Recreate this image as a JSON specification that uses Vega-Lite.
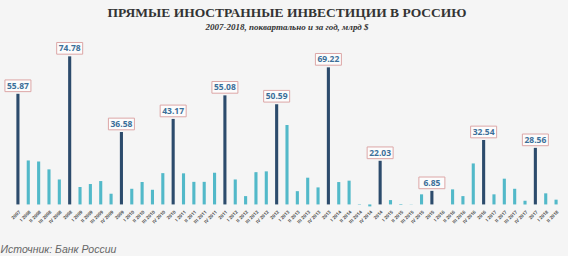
{
  "$schema": "https://vega.github.io/schema/vega-lite/v6.json",
  "width": 546,
  "height": 161,
  "autosize": {"type": "pad"},
  "padding": {"left": 0, "right": 8, "top": 5, "bottom": 0},
  "background": "#f5f5f5",
  "title": {
    "text": "ПРЯМЫЕ ИНОСТРАННЫЕ ИНВЕСТИЦИИ В РОССИЮ",
    "subtitle": "2007-2018, поквартально и за год, млрд $",
    "anchor": "middle",
    "font": "Liberation Serif",
    "fontSize": 13.5,
    "fontWeight": "bold",
    "color": "#333333",
    "subtitleFont": "Liberation Serif",
    "subtitleFontSize": 9,
    "subtitleFontStyle": "italic",
    "subtitleFontWeight": "bold",
    "subtitleColor": "#333333",
    "subtitlePadding": 4,
    "offset": 8
  },
  "config": {
    "view": {"stroke": null},
    "font": "Open Sans"
  },
  "data": {
    "values": [
      {"label": "2007", "type": "year", "value": 55.87},
      {"label": "I 2008", "type": "quarter", "value": 22.2},
      {"label": "II 2008", "type": "quarter", "value": 21.7},
      {"label": "III 2008", "type": "quarter", "value": 17.7},
      {"label": "IV 2008", "type": "quarter", "value": 12.6},
      {"label": "2008", "type": "year", "value": 74.78},
      {"label": "I 2009", "type": "quarter", "value": 8.8},
      {"label": "II 2009", "type": "quarter", "value": 10.3},
      {"label": "III 2009", "type": "quarter", "value": 11.8},
      {"label": "IV 2009", "type": "quarter", "value": 5.4},
      {"label": "2009", "type": "year", "value": 36.58},
      {"label": "I 2010", "type": "quarter", "value": 7.9},
      {"label": "II 2010", "type": "quarter", "value": 11.3},
      {"label": "III 2010", "type": "quarter", "value": 7.4},
      {"label": "IV 2010", "type": "quarter", "value": 15.8},
      {"label": "2010", "type": "year", "value": 43.17},
      {"label": "I 2011", "type": "quarter", "value": 15.7},
      {"label": "II 2011", "type": "quarter", "value": 11.4},
      {"label": "III 2011", "type": "quarter", "value": 11.4},
      {"label": "IV 2011", "type": "quarter", "value": 16.0},
      {"label": "2011", "type": "year", "value": 55.08},
      {"label": "I 2012", "type": "quarter", "value": 12.6},
      {"label": "II 2012", "type": "quarter", "value": 4.2},
      {"label": "III 2012", "type": "quarter", "value": 16.3},
      {"label": "IV 2012", "type": "quarter", "value": 16.7},
      {"label": "2012", "type": "year", "value": 50.59},
      {"label": "I 2013", "type": "quarter", "value": 40.1},
      {"label": "II 2013", "type": "quarter", "value": 6.7},
      {"label": "III 2013", "type": "quarter", "value": 13.5},
      {"label": "IV 2013", "type": "quarter", "value": 8.6},
      {"label": "2013", "type": "year", "value": 69.22},
      {"label": "I 2014", "type": "quarter", "value": 11.3},
      {"label": "II 2014", "type": "quarter", "value": 12.0},
      {"label": "III 2014", "type": "quarter", "value": 0.2},
      {"label": "IV 2014", "type": "quarter", "value": -1.0},
      {"label": "2014", "type": "year", "value": 22.03},
      {"label": "I 2015", "type": "quarter", "value": 2.2},
      {"label": "II 2015", "type": "quarter", "value": -0.3},
      {"label": "III 2015", "type": "quarter", "value": 0.1},
      {"label": "IV 2015", "type": "quarter", "value": 5.1},
      {"label": "2015", "type": "year", "value": 6.85},
      {"label": "I 2016", "type": "quarter", "value": 0.0},
      {"label": "II 2016", "type": "quarter", "value": 7.6},
      {"label": "III 2016", "type": "quarter", "value": 4.2},
      {"label": "IV 2016", "type": "quarter", "value": 20.7},
      {"label": "2016", "type": "year", "value": 32.54},
      {"label": "I 2017", "type": "quarter", "value": 5.1},
      {"label": "II 2017", "type": "quarter", "value": 13.0},
      {"label": "III 2017", "type": "quarter", "value": 7.9},
      {"label": "IV 2017", "type": "quarter", "value": 1.9},
      {"label": "2017", "type": "year", "value": 28.56},
      {"label": "I 2018", "type": "quarter", "value": 5.6},
      {"label": "II 2018", "type": "quarter", "value": 2.4}
    ]
  },
  "encoding": {
    "x": {
      "field": "label",
      "type": "nominal",
      "sort": null,
      "scale": {"paddingInner": 0.7, "paddingOuter": 0.23},
      "axis": {
        "title": "Источник: Банк России",
        "titleAnchor": "start",
        "titleAlign": "left",
        "titleX": -14,
        "titleFont": "Liberation Sans",
        "titleFontStyle": "italic",
        "titleFontWeight": "normal",
        "titleFontSize": 10.5,
        "titleColor": "#666666",
        "titlePadding": 21,
        "labelAngle": -45,
        "labelFontSize": 4.6,
        "labelFontWeight": "bold",
        "labelColor": "#555555",
        "labelPadding": 2,
        "ticks": false,
        "domain": false
      }
    },
    "y": {
      "field": "value",
      "type": "quantitative",
      "scale": {"domain": [-1.3, 80], "nice": false, "zero": false},
      "axis": null
    }
  },
  "layer": [
    {
      "mark": {"type": "bar"},
      "encoding": {
        "color": {
          "field": "type",
          "type": "nominal",
          "scale": {"domain": ["year", "quarter"], "range": ["#2c4b6c", "#52b9c9"]},
          "legend": null
        }
      }
    },
    {
      "transform": [{"filter": "datum.type === 'year'"}],
      "mark": {
        "type": "point",
        "shape": "M-1,-0.45L1,-0.45L1,0.45L-1,0.45Z",
        "size": 676,
        "filled": false,
        "fill": "#fcfcfc",
        "fillOpacity": 1,
        "stroke": "#dca6a6",
        "strokeWidth": 1,
        "opacity": 1,
        "yOffset": -8
      }
    },
    {
      "transform": [{"filter": "datum.type === 'year'"}],
      "mark": {
        "type": "text",
        "font": "Open Sans",
        "fontSize": 8.5,
        "fontWeight": "bold",
        "color": "#3b6f99",
        "dy": -8,
        "baseline": "middle"
      },
      "encoding": {
        "text": {"field": "value", "type": "quantitative", "format": ".2f"}
      }
    }
  ]
}
